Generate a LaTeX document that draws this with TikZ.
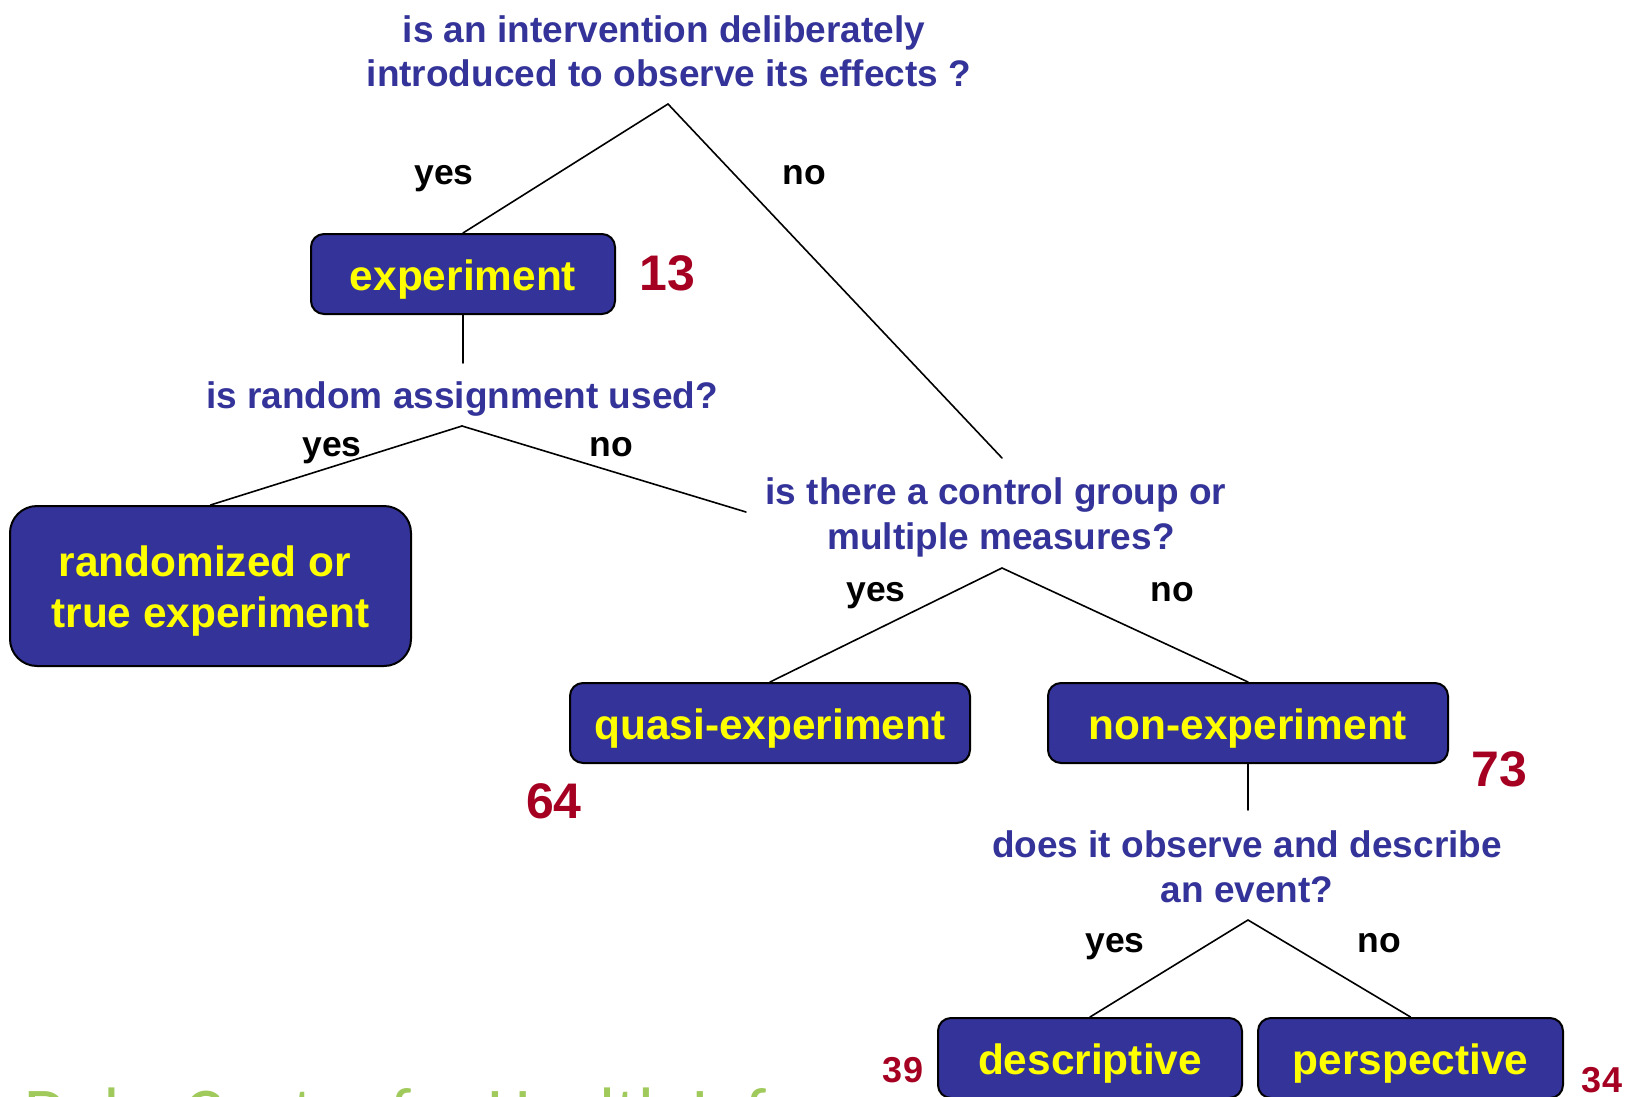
\documentclass[tikz,border=0pt]{standalone}
\usepackage{fontspec}
\setmainfont{Liberation Sans}
\newfontfamily\logofont{Carlito}
\definecolor{qblue}{RGB}{51,51,153}
\definecolor{boxyellow}{RGB}{255,255,0}
\definecolor{numred}{RGB}{165,0,33}
\definecolor{logogreen}{RGB}{160,202,92}
\newcommand{\trailsp}{\hspace*{0.278em}}
\begin{document}
\begin{tikzpicture}[x=1pt,y=-1pt,
  question/.style={text=qblue, font=\fontsize{37}{44.6}\selectfont\bfseries,
    align=center, inner sep=0pt, anchor=base},
  answer/.style={font=\fontsize{35.5}{42}\selectfont\bfseries, inner sep=0pt, anchor=base},
  design/.style={draw=black, line width=2pt, fill=qblue, text=boxyellow,
    rounded corners=13pt, font=\fontsize{42.4}{51}\selectfont\bfseries,
    inner sep=0pt, minimum height=80pt, text height=32pt, text depth=0pt, align=center},
  count/.style={text=numred, font=\fontsize{50}{60}\selectfont\bfseries,
    inner sep=0pt, anchor=base},
  smallcount/.style={count, font=\fontsize{36}{43}\selectfont\bfseries},
  branch/.style={line width=1.6pt, line cap=round}
]
\useasboundingbox (0,0) rectangle (1625,1097);
\clip (0,0) rectangle (1625,1097);

% faded logo line along the lower edge
\begin{scope}
  \clip (0,1000) rectangle (870,1097);
  \node[anchor=base west, inner sep=0pt, text=logogreen,
        font=\logofont\fontsize{70}{84}\selectfont] (logo) at (24,1136)
        {Duke Center for Health Informatics};
\end{scope}

% questions
\node[question] (q1) at (669,87) {is an intervention deliberately\trailsp\\introduced to observe its effects ?};
\node[question] (q2) at (462,408) {is random assignment used?};
\node[question] (q3) at (1001,549) {is there a control group or\trailsp\\multiple measures?};
\node[question] (q4) at (1247,902) {does it observe and describe\\an event?};

% study designs
\node[design, minimum width=304pt] (exp) at (463,274) {experiment};
\node[design, minimum width=401pt, minimum height=160pt, rounded corners=27pt,
      text height=82pt] (rnd) at (210.5,586) {randomized or\trailsp\\true experiment};
\node[design, minimum width=400pt] (quasi) at (770,723) {quasi-experiment};
\node[design, minimum width=400pt] (nonexp) at (1248,723) {non-experiment};
\node[design, minimum width=304pt] (desc) at (1090,1058) {descriptive};
\node[design, minimum width=305pt] (persp) at (1410.5,1058) {perspective};

% counts
\node[count] (n13) at (667,290) {13};
\node[count] (n64) at (554,818) {64};
\node[count] (n73) at (1499,786) {73};
\node[smallcount] (n39) at (903,1082) {39};
\node[smallcount] (n34) at (1602,1092) {34};

% branch points
\coordinate (a1) at (668,104);
\coordinate (a1no) at (1002,458);
\coordinate (v1) at (463,363);
\coordinate (a2) at (462,426);
\coordinate (a2no) at (746,512);
\coordinate (a3) at (1002,568);
\coordinate (v2) at (1248,810);
\coordinate (a4) at (1248,920);

\draw[branch] (a1) -- (exp.north);
\draw[branch] (a1) -- (a1no);
\draw[branch] (exp.south) -- (v1);
\draw[branch] (a2) -- (rnd.north);
\draw[branch] (a2) -- (a2no);
\draw[branch] (a3) -- (quasi.north);
\draw[branch] (a3) -- (nonexp.north);
\draw[branch] (nonexp.south) -- (v2);
\draw[branch] (a4) -- (desc.north);
\draw[branch] (a4) -- (persp.north);

% yes / no labels
\node[answer] (y1) at (444,184) {yes};
\node[answer] (o1) at (804,184) {no};
\node[answer] (y2) at (332,456) {yes};
\node[answer] (o2) at (611,456) {no};
\node[answer] (y3) at (876,601) {yes};
\node[answer] (o3) at (1172,601) {no};
\node[answer] (y4) at (1115,952) {yes};
\node[answer] (o4) at (1379,952) {no};
\end{tikzpicture}
\end{document}
